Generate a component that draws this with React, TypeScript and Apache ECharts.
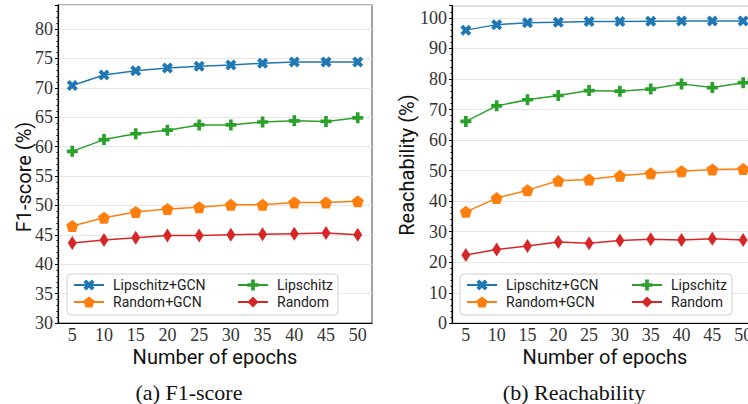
import React, { useEffect, useRef } from "react";
import * as echarts from "echarts";

const epochs = [5, 10, 15, 20, 25, 30, 35, 40, 45, 50];
const seriesNames = ["Lipschitz+GCN", "Random+GCN", "Lipschitz", "Random"];
const f1LipGcn = [70.4, 72.2, 72.9, 73.4, 73.7, 73.9, 74.2, 74.4, 74.4, 74.4];
const f1RandGcn = [46.5, 47.9, 48.9, 49.4, 49.7, 50.1, 50.1, 50.5, 50.5, 50.7];
const f1Lip = [59.2, 61.2, 62.2, 62.8, 63.7, 63.7, 64.2, 64.4, 64.3, 64.9];
const f1Rand = [43.6, 44.1, 44.5, 44.9, 44.9, 45.0, 45.1, 45.2, 45.3, 45.0];
const reLipGcn = [96.0, 97.8, 98.4, 98.6, 98.8, 98.8, 98.9, 99.0, 99.0, 99.0];
const reRandGcn = [36.5, 41.0, 43.6, 46.7, 47.1, 48.3, 49.1, 49.8, 50.4, 50.5];
const reLip = [66.1, 71.2, 73.2, 74.6, 76.2, 76.0, 76.7, 78.4, 77.2, 78.8];
const reRand = [22.4, 24.2, 25.3, 26.6, 26.2, 27.1, 27.5, 27.3, 27.7, 27.3];

const colors = ["#1f77b4", "#ff7f0e", "#2ca02c", "#d62728"];
const symX = "path://M2,-4L4,-2L2,0L4,2L2,4L0,2L-2,4L-4,2L-2,0L-4,-2L-2,-4L0,-2Z";
const symP = "path://M-1,-3L1,-3L1,-1L3,-1L3,1L1,1L1,3L-1,3L-1,1L-3,1L-3,-1L-1,-1Z";
const symPent = "path://M0,-1L0.951,-0.309L0.588,0.809L-0.588,0.809L-0.951,-0.309Z";
const symDiam = "path://M0,-1L0.6,0L0,1L-0.6,0Z";
const symbols = [symX, symPent, symP, symDiam];
const symSizes: any[] = [11, 12, 11, [9, 14]];

const serif = "'Liberation Serif', serif";
const sans = "Roboto, sans-serif";

export default function App() {
  const ref = useRef<HTMLDivElement>(null);
  useEffect(() => {
    if (!ref.current) return;
    const chart = echarts.init(ref.current, null, { renderer: "svg" });
    const mk = (vals: number[], i: number, gi: number) => ({
      type: "line",
      name: seriesNames[i],
      xAxisIndex: gi,
      yAxisIndex: gi,
      data: epochs.map((e, k) => [e, vals[k]]),
      symbol: symbols[i],
      symbolSize: symSizes[i],
      lineStyle: { color: colors[i], width: 1.5 },
      itemStyle: { color: colors[i] },
      z: 3,
    });
    const xAxis = (gi: number) => ({
      type: "value",
      gridIndex: gi,
      min: 2.75,
      max: 52.25,
      axisLine: { show: true, lineStyle: { color: "#000", width: 1.2 } },
      axisTick: { show: false },
      splitLine: { show: false },
      axisLabel: {
        customValues: epochs,
        color: "#333",
        fontFamily: serif,
        fontSize: 18,
        margin: 3,
      },
    });
    const yAxis = (gi: number, min: number, max: number, interval: number) => ({
      type: "value",
      gridIndex: gi,
      min,
      max,
      interval,
      axisLine: { show: true, lineStyle: { color: "#000", width: 1.2 } },
      axisTick: { show: true, length: 3, lineStyle: { color: "#000" } },
      minorTick: { show: true, splitNumber: 5, length: 1.5, lineStyle: { color: "#000" } },
      splitLine: { show: true, lineStyle: { color: "#e6e6e6", width: 1 } },
      axisLabel: {
        color: "#333",
        fontFamily: serif,
        fontSize: 18,
        margin: 5,
        showMaxLabel: false,
      },
    });
    const legendBase = {
      orient: "vertical",
      itemWidth: 30,
      itemHeight: 14,
      itemGap: 3,
      z: 20,
      textStyle: { fontFamily: sans, fontSize: 14, color: "#222", padding: [0, 0, 0, 4] },
      padding: 0,
    };
    chart.setOption({
      animation: false,
      grid: [
        { left: 58, top: 5, width: 314, height: 318, show: true, borderColor: "#666", borderWidth: 1.2, containLabel: false, outerBoundsMode: "none" },
        { left: 452, top: 5.7, width: 305, height: 317.6, show: true, borderColor: "#666", borderWidth: 1.2, containLabel: false, outerBoundsMode: "none" },
      ],
      xAxis: [xAxis(0), xAxis(1)],
      yAxis: [yAxis(0, 30, 84.1, 5), yAxis(1, 0, 104, 10)],
      legend: [
        { ...legendBase, left: 73, top: 278, data: [seriesNames[0], seriesNames[1]] },
        { ...legendBase, left: 237, top: 278, data: [seriesNames[2], seriesNames[3]] },
        { ...legendBase, left: 466, top: 278, data: [seriesNames[0], seriesNames[1]] },
        { ...legendBase, left: 631, top: 278, data: [seriesNames[2], seriesNames[3]] },
      ],
      graphic: [
        { type: "rect", z: 10, shape: { x: 67, y: 274, width: 271, height: 41, r: 4 }, style: { fill: "rgba(255,255,255,0.85)", stroke: "#d0d0d0", lineWidth: 1 } },
        { type: "rect", z: 10, shape: { x: 460, y: 274, width: 272, height: 41, r: 4 }, style: { fill: "rgba(255,255,255,0.85)", stroke: "#d0d0d0", lineWidth: 1 } },
        { type: "text", x: 24, y: 177, rotation: Math.PI / 2, style: { text: "F1-score (%)", fontFamily: sans, fontSize: 20, fill: "#111", align: "center", verticalAlign: "middle" } },
        { type: "text", x: 407, y: 165, rotation: Math.PI / 2, style: { text: "Reachability (%)", fontFamily: sans, fontSize: 20, fill: "#111", align: "center", verticalAlign: "middle" } },
        { type: "text", x: 215, y: 357, style: { text: "Number of epochs", fontFamily: sans, fontSize: 20, fill: "#111", align: "center", verticalAlign: "middle" } },
        { type: "text", x: 605, y: 357, style: { text: "Number of epochs", fontFamily: sans, fontSize: 20, fill: "#111", align: "center", verticalAlign: "middle" } },
        { type: "text", x: 189, y: 392, style: { text: "(a) F1-score", fontFamily: serif, fontSize: 22, fill: "#111", align: "center", verticalAlign: "middle" } },
        { type: "text", x: 574, y: 392, style: { text: "(b) Reachability", fontFamily: serif, fontSize: 22, fill: "#111", align: "center", verticalAlign: "middle" } },
      ],
      series: [
        mk(f1LipGcn, 0, 0),
        mk(f1RandGcn, 1, 0),
        mk(f1Lip, 2, 0),
        mk(f1Rand, 3, 0),
        mk(reLipGcn, 0, 1),
        mk(reRandGcn, 1, 1),
        mk(reLip, 2, 1),
        mk(reRand, 3, 1),
      ],
    });
    return () => chart.dispose();
  }, []);
  return <div ref={ref} style={{ position: "fixed", left: 0, top: 0, width: 748, height: 404, background: "#fff" }} />;
}
